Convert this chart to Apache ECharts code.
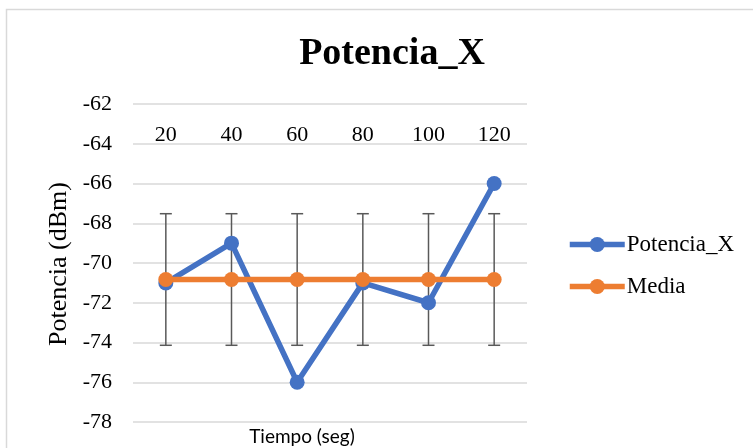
<!DOCTYPE html>
<html>
<head>
<meta charset="utf-8">
<script src="https://cdn.jsdelivr.net/npm/echarts@6/dist/echarts.min.js"></script>
<style>
  html, body { margin: 0; padding: 0; background: #fff; }
  #chart { width: 753px; height: 448px; }
</style>
</head>
<body>
<div id="chart"></div>
<script>
// Sampling times (s) and measured power (dBm)
const categories = ['20', '40', '60', '80', '100', '120'];
const potenciaX = [-71, -69, -76, -71, -72, -66];
// Mean level and its standard deviation, drawn as a flat line with error bars
const mediaValue = [-70.83, -70.83, -70.83, -70.83, -70.83, -70.83];
const mediaError = [3.31, 3.31, 3.31, 3.31, 3.31, 3.31];
const yTicks = { min: -78, max: -62, step: 2 };

const serif = "'Liberation Serif', 'Times New Roman', serif";

const errorBarData = categories.map((c, i) => [i, mediaValue[i] + mediaError[i], mediaValue[i] - mediaError[i]]);

const chart = echarts.init(document.getElementById('chart'));
chart.setOption({
  animation: false,
  backgroundColor: '#ffffff',
  grid: { left: 133, right: 226, top: 104, bottom: 26, containLabel: false },
  graphic: [
    {
      type: 'rect', silent: true, z: -10,
      shape: { x: 6.5, y: 9.5, width: 900, height: 600 },
      style: { fill: 'none', stroke: '#d9d9d9', lineWidth: 1.5 }
    },
    {
      type: 'text', x: 392, y: 54,
      style: { text: 'Potencia_X', font: "bold 38px " + serif, fill: '#000', align: 'center', verticalAlign: 'middle' }
    },
    {
      type: 'text', x: 59, y: 264, rotation: Math.PI / 2,
      style: { text: 'Potencia (dBm)', font: "26px " + serif, fill: '#000', align: 'center', verticalAlign: 'middle' }
    },
    {
      type: 'text', x: 302, y: 437,
      style: { text: 'Tiempo (seg)', font: "19px Lato, 'Open Sans', sans-serif", fill: '#000', align: 'center', verticalAlign: 'middle' }
    }
  ],
  legend: {
    orient: 'vertical',
    left: 567,
    top: 233,
    padding: 0,
    itemWidth: 55,
    itemHeight: 19,
    itemGap: 19,
    lineStyle: { width: 5.5 },
    textStyle: { fontFamily: serif, fontSize: 23, color: '#000', padding: [0, 0, 0, -3] },
    data: ['Potencia_X', 'Media']
  },
  xAxis: {
    type: 'category',
    data: categories,
    position: 'top',
    offset: -40,
    boundaryGap: true,
    axisLine: { show: false },
    axisTick: { show: false },
    splitLine: { show: false },
    axisLabel: { fontFamily: serif, fontSize: 22, color: '#000', margin: -2 }
  },
  yAxis: {
    type: 'value',
    min: yTicks.min,
    max: yTicks.max,
    interval: yTicks.step,
    axisLine: { show: false },
    axisTick: { show: false },
    splitLine: { lineStyle: { color: '#d9d9d9', width: 1.5 } },
    axisLabel: { fontFamily: serif, fontSize: 22, color: '#000', margin: 21 }
  },
  series: [
    {
      name: 'errorBars',
      type: 'custom',
      z: 1,
      silent: true,
      data: errorBarData,
      encode: { x: 0, y: [1, 2] },
      renderItem: function (params, api) {
        const x = api.value(0);
        const top = api.coord([x, api.value(1)]);
        const bot = api.coord([x, api.value(2)]);
        const half = 6;
        const style = { stroke: '#595959', lineWidth: 1.5, fill: 'none' };
        return {
          type: 'group',
          children: [
            { type: 'line', shape: { x1: top[0], y1: top[1], x2: bot[0], y2: bot[1] }, style: style },
            { type: 'line', shape: { x1: top[0] - half, y1: top[1], x2: top[0] + half, y2: top[1] }, style: style },
            { type: 'line', shape: { x1: bot[0] - half, y1: bot[1], x2: bot[0] + half, y2: bot[1] }, style: style }
          ]
        };
      }
    },
    {
      name: 'Potencia_X',
      type: 'line',
      z: 2,
      data: potenciaX,
      symbol: 'circle',
      symbolSize: 15,
      lineStyle: { color: '#4472C4', width: 5.5 },
      itemStyle: { color: '#4472C4' }
    },
    {
      name: 'Media',
      type: 'line',
      z: 3,
      data: mediaValue,
      symbol: 'circle',
      symbolSize: 15,
      lineStyle: { color: '#ED7D31', width: 5.5 },
      itemStyle: { color: '#ED7D31' }
    }
  ]
});
</script>
</body>
</html>
